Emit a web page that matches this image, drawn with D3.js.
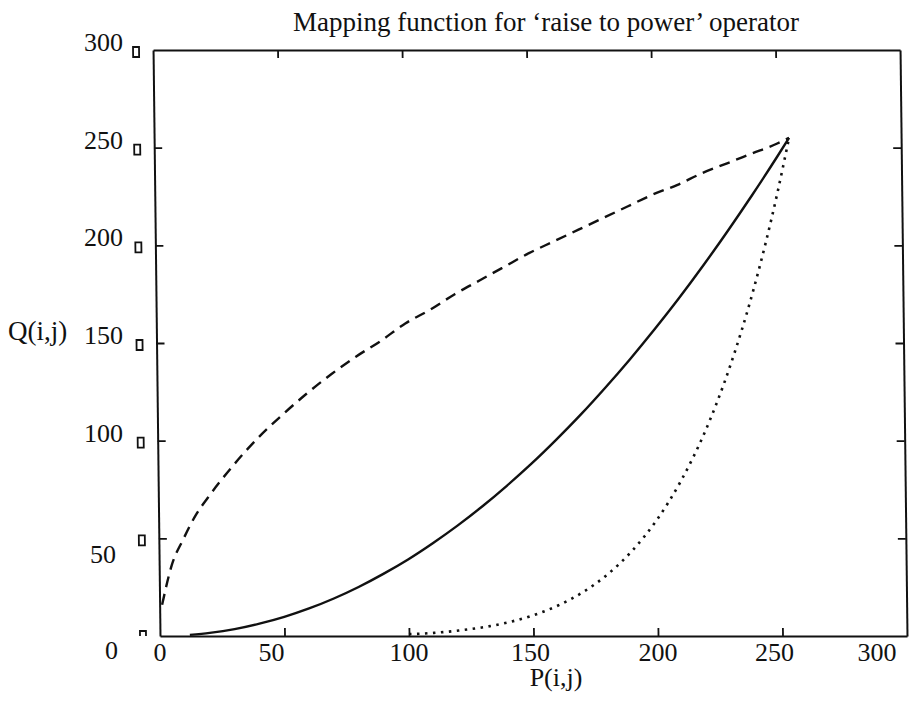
<!DOCTYPE html>
<html>
<head>
<meta charset="utf-8">
<script src="https://cdn.jsdelivr.net/npm/d3@7/dist/d3.min.js"></script>
<style>
  html, body { margin: 0; padding: 0; background: #fff; }
  svg { display: block; }
  text { font-family: "Liberation Serif", "Times New Roman", serif; fill: #111; }
</style>
</head>
<body>
<svg id="chart" width="909" height="703"></svg>
<script>
// Grey-level mapping Q = f(P) for three power-law exponents
const titleText = "Mapping function for \u2018raise to power\u2019 operator";
const xLabel = "P(i,j)";
const yLabel = "Q(i,j)";
const xTicks = [0, 50, 100, 150, 200, 250, 300];
const yTicks = [0, 50, 100, 150, 200, 250, 300];

// exponent 0.5 (dashed)
const sqrtP = [1, 5, 10, 15, 20, 30, 40, 50, 60, 70, 80, 90, 100, 110, 120, 130, 140, 150, 160, 170, 180, 190, 200, 210, 220, 230, 240, 250, 255];
const sqrtQ = [16, 36, 50, 62, 71, 87, 101, 113, 124, 134, 143, 151, 160, 167, 175, 182, 189, 196, 202, 208, 214, 220, 226, 231, 237, 242, 247, 252, 255];

// exponent 2 (solid)
const squareP = [12, 20, 30, 40, 50, 60, 70, 80, 90, 100, 110, 120, 130, 140, 150, 160, 170, 180, 190, 200, 210, 220, 230, 240, 250, 255];
const squareQ = [0.6, 1.6, 3.5, 6.3, 9.8, 14.1, 19.2, 25.1, 31.8, 39.2, 47.5, 56.5, 66.3, 76.9, 88.2, 100.4, 113.3, 127.1, 141.6, 156.9, 172.9, 189.8, 207.5, 225.9, 245.1, 255];

// exponent 6 (dotted)
const sixthP = [100, 105, 110, 120, 130, 140, 150, 160, 170, 180, 190, 200, 210, 220, 230, 240, 250, 255];
const sixthQ = [1.0, 1.2, 1.6, 2.8, 4.5, 7.0, 10.6, 15.6, 22.4, 31.5, 43.6, 59.3, 79.5, 105.0, 137.3, 177.3, 226.5, 255];

const svg = d3.select("#chart");
svg.append("rect").attr("width", 909).attr("height", 703).attr("fill", "#fff");

const plotL = 160, plotR = 907, plotT = 50, plotB = 636;
const x = d3.scaleLinear().domain([0, 300]).range([plotL, plotR]);
const y = d3.scaleLinear().domain([0, 300]).range([plotB, plotT]);

// the printed frame leans slightly; shear the plot about its baseline
const plot = svg.append("g")
  .attr("transform", `translate(0,${plotB}) skewX(0.68) translate(0,${-plotB})`);

const inner = v => v > 0 && v < 300;
function styleAxis(g) {
  g.select(".domain").attr("stroke", "#111").attr("stroke-width", 2);
  g.selectAll(".tick line").attr("stroke", "#111").attr("stroke-width", 1.8);
  g.selectAll(".tick text").remove();
}
plot.append("g").attr("transform", `translate(0,${plotB})`)
  .call(d3.axisBottom(x).tickValues(xTicks.filter(inner)).tickSizeInner(-8).tickSizeOuter(0)).call(styleAxis);
plot.append("g").attr("transform", `translate(0,${plotT})`)
  .call(d3.axisTop(x).tickValues(xTicks.filter(inner)).tickSizeInner(-8).tickSizeOuter(0)).call(styleAxis);
plot.append("g").attr("transform", `translate(${plotL},0)`)
  .call(d3.axisLeft(y).tickValues(yTicks.filter(inner)).tickSizeInner(-8).tickSizeOuter(0)).call(styleAxis);
plot.append("g").attr("transform", `translate(${plotR},0)`)
  .call(d3.axisRight(y).tickValues(yTicks.filter(inner)).tickSizeInner(-8).tickSizeOuter(0)).call(styleAxis);

// small box markers beside the left tick labels
plot.append("g").selectAll("path").data(yTicks).join("path")
  .attr("d", v => {
    const cy = y(v), x0 = plotL - 20, x1 = plotL - 14;
    return v === 0
      ? `M${x0},${cy} V${cy - 5} H${x1} V${cy}`
      : `M${x0},${cy - 3} H${x1} V${cy + 7} H${x0} Z`;
  })
  .attr("fill", "none").attr("stroke", "#111").attr("stroke-width", 1.8);

const line = d3.line().x(d => x(d[0])).y(d => y(d[1])).curve(d3.curveMonotoneX);
const series = [
  { p: sqrtP, q: sqrtQ, dash: "11,7", w: 2.4 },
  { p: squareP, q: squareQ, dash: null, w: 2.4 },
  { p: sixthP, q: sixthQ, dash: "2.5,5.5", w: 2.6 }
];
plot.append("g").selectAll("path").data(series).join("path")
  .attr("d", s => line(s.p.map((p, i) => [p, s.q[i]])))
  .attr("fill", "none").attr("stroke", "#111").attr("stroke-width", s => s.w)
  .attr("stroke-dasharray", s => s.dash);

// tick labels
const xShift = { 50: -13, 150: -3, 250: -8, 300: -30 };
svg.append("g").selectAll("text").data(xTicks).join("text")
  .attr("x", v => x(v) + (xShift[v] || 0)).attr("y", 661)
  .attr("text-anchor", "middle").attr("font-size", 26)
  .text(v => v);

const yShift = { 0: 22, 50: 24 };
const yAnchor = { 0: 118, 50: 116 };
svg.append("g").selectAll("text").data(yTicks).join("text")
  .attr("x", v => yAnchor[v] || 123).attr("y", v => y(v) + 1 + (yShift[v] || 0))
  .attr("text-anchor", "end").attr("font-size", 26)
  .text(v => v);

svg.append("text").attr("x", 8).attr("y", 340).attr("font-size", 27).text(yLabel);
svg.append("text").attr("x", 556).attr("y", 686).attr("text-anchor", "middle").attr("font-size", 26).text(xLabel);
svg.append("text").attr("x", 546).attr("y", 31).attr("text-anchor", "middle").attr("font-size", 27).text(titleText);
</script>
</body>
</html>
